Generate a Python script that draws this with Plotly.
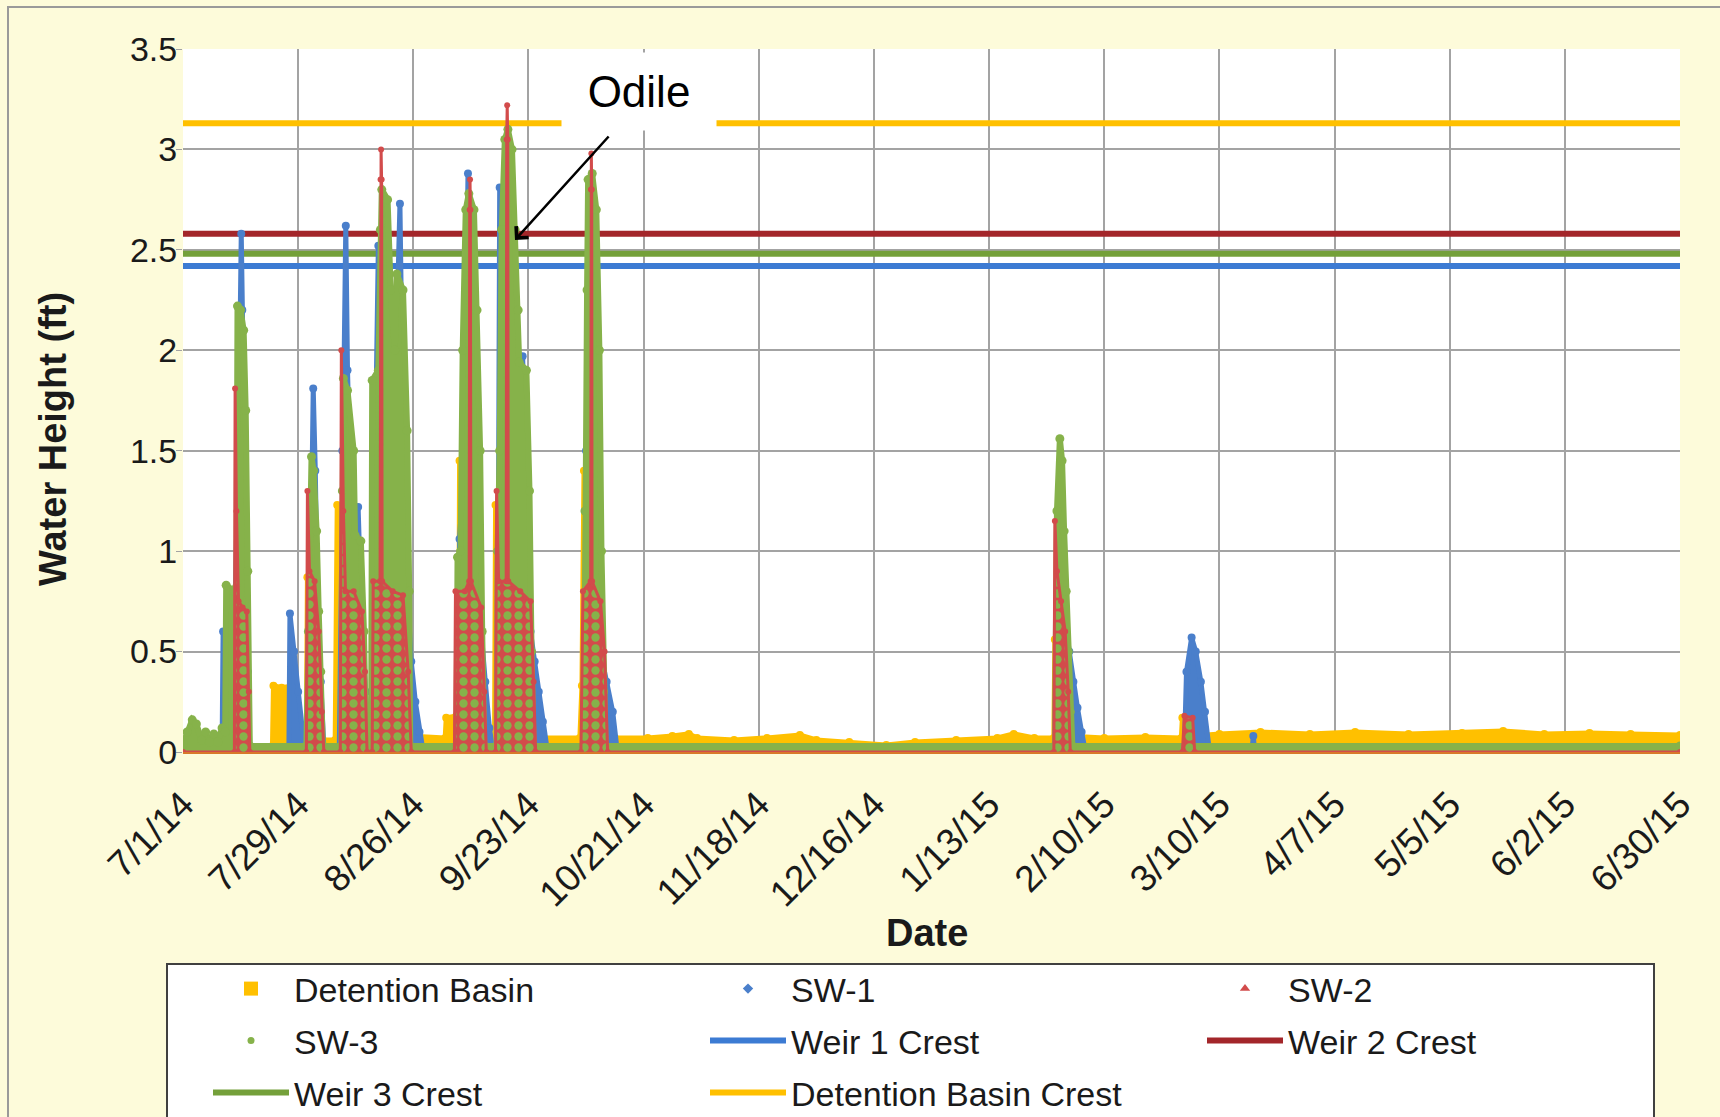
import plotly.graph_objects as go

# ---------------- data ----------------
TICK_DATES = ["2014-07-01", "2014-07-29", "2014-08-26", "2014-09-23", "2014-10-21",
              "2014-11-18", "2014-12-16", "2015-01-13", "2015-02-10", "2015-03-10",
              "2015-04-07", "2015-05-05", "2015-06-02", "2015-06-30"]
TICK_LABELS = ["7/1/14", "7/29/14", "8/26/14", "9/23/14", "10/21/14", "11/18/14",
               "12/16/14", "1/13/15", "2/10/15", "3/10/15", "4/7/15", "5/5/15",
               "6/2/15", "6/30/15"]
Y_TICKS = [0, 0.5, 1, 1.5, 2, 2.5, 3, 3.5]
Y_LABELS = ["0", "0.5", "1", "1.5", "2", "2.5", "3", "3.5"]

CREST_NAMES = ["Weir 1 Crest", "Weir 2 Crest", "Weir 3 Crest", "Detention Basin Crest"]
CREST_HEIGHTS = [2.42, 2.58, 2.48, 3.13]

DETENTION_BASIN = [
    ("2014-07-01 00:00", 0.03), ("2014-07-22 18:00", 0.03), ("2014-07-23 00:00", 0.33),
    ("2014-07-25 00:00", 0.32), ("2014-07-28 00:00", 0.33), ("2014-07-28 06:00", 0.05),
    ("2014-07-31 00:00", 0.05), ("2014-07-31 06:00", 0.87), ("2014-08-01 12:00", 0.88),
    ("2014-08-02 12:00", 0.75), ("2014-08-03 06:00", 0.35), ("2014-08-04 00:00", 0.06),
    ("2014-08-07 00:00", 0.06), ("2014-08-07 12:00", 1.23), ("2014-08-08 06:00", 1.15),
    ("2014-08-09 00:00", 0.90), ("2014-08-11 00:00", 0.55), ("2014-08-13 00:00", 0.30),
    ("2014-08-14 12:00", 0.07), ("2014-08-15 18:00", 0.07), ("2014-08-16 06:00", 1.85),
    ("2014-08-17 06:00", 1.60), ("2014-08-19 00:00", 1.00), ("2014-08-21 00:00", 0.60),
    ("2014-08-23 00:00", 0.30), ("2014-08-25 00:00", 0.08), ("2014-09-02 18:00", 0.07),
    ("2014-09-03 00:00", 0.17), ("2014-09-05 12:00", 0.18), ("2014-09-06 00:00", 0.20),
    ("2014-09-06 06:00", 1.45), ("2014-09-07 06:00", 1.25), ("2014-09-09 00:00", 0.75),
    ("2014-09-11 00:00", 0.30), ("2014-09-12 12:00", 0.07), ("2014-09-14 18:00", 0.07),
    ("2014-09-15 00:00", 1.23), ("2014-09-15 18:00", 1.00), ("2014-09-16 06:00", 0.55),
    ("2014-09-18 18:00", 0.50), ("2014-09-20 00:00", 0.30), ("2014-09-22 00:00", 0.10),
    ("2014-09-23 00:00", 0.07), ("2014-10-05 12:00", 0.07), ("2014-10-06 00:00", 0.33),
    ("2014-10-06 12:00", 1.40), ("2014-10-07 12:00", 1.20), ("2014-10-08 12:00", 0.80),
    ("2014-10-10 00:00", 0.40), ("2014-10-12 00:00", 0.10), ("2014-10-14 00:00", 0.07),
    ("2014-10-22 00:00", 0.07), ("2014-10-28 00:00", 0.08), ("2014-11-01 00:00", 0.09),
    ("2014-11-03 00:00", 0.07), ("2014-11-12 00:00", 0.06), ("2014-11-20 00:00", 0.07),
    ("2014-11-28 00:00", 0.085), ("2014-12-02 00:00", 0.06), ("2014-12-10 00:00", 0.05),
    ("2014-12-19 00:00", 0.035), ("2014-12-26 00:00", 0.05), ("2015-01-05 00:00", 0.06),
    ("2015-01-15 00:00", 0.07), ("2015-01-19 00:00", 0.09), ("2015-01-24 00:00", 0.07),
    ("2015-01-28 18:00", 0.07), ("2015-01-29 00:00", 0.56), ("2015-01-30 12:00", 0.50),
    ("2015-01-31 06:00", 0.30), ("2015-02-01 00:00", 0.08), ("2015-02-10 00:00", 0.07),
    ("2015-02-20 00:00", 0.075), ("2015-02-28 18:00", 0.07), ("2015-03-01 00:00", 0.17),
    ("2015-03-03 12:00", 0.16), ("2015-03-04 00:00", 0.08), ("2015-03-10 00:00", 0.09),
    ("2015-03-20 00:00", 0.10), ("2015-04-01 00:00", 0.09), ("2015-04-12 00:00", 0.10),
    ("2015-04-25 00:00", 0.09), ("2015-05-08 00:00", 0.095), ("2015-05-18 00:00", 0.105),
    ("2015-05-28 00:00", 0.09), ("2015-06-08 00:00", 0.095), ("2015-06-18 00:00", 0.09),
    ("2015-06-30 00:00", 0.085),
]

SW1 = [
    ("2014-07-01 00:00", 0.02), ("2014-07-10 12:00", 0.02), ("2014-07-10 18:00", 0.60),
    ("2014-07-12 00:00", 0.55), ("2014-07-13 12:00", 0.60), ("2014-07-14 12:00", 1.50),
    ("2014-07-15 04:00", 2.58), ("2014-07-15 10:00", 2.20), ("2014-07-15 18:00", 1.50),
    ("2014-07-16 06:00", 0.90), ("2014-07-16 18:00", 0.40), ("2014-07-17 06:00", 0.02),
    ("2014-07-26 18:00", 0.02), ("2014-07-27 00:00", 0.69), ("2014-07-28 00:00", 0.50),
    ("2014-07-29 00:00", 0.30), ("2014-07-30 12:00", 0.02), ("2014-07-31 12:00", 0.02),
    ("2014-08-01 00:00", 1.00), ("2014-08-01 16:00", 1.81), ("2014-08-02 04:00", 1.40),
    ("2014-08-02 18:00", 0.70), ("2014-08-03 12:00", 0.35), ("2014-08-04 06:00", 0.02),
    ("2014-08-08 00:00", 0.02), ("2014-08-08 18:00", 1.50), ("2014-08-09 14:00", 2.62),
    ("2014-08-10 00:00", 1.90), ("2014-08-10 18:00", 1.30), ("2014-08-11 18:00", 0.90),
    ("2014-08-12 14:00", 1.22), ("2014-08-13 12:00", 0.60), ("2014-08-14 12:00", 0.30),
    ("2014-08-15 06:00", 0.02), ("2014-08-16 12:00", 0.02), ("2014-08-16 18:00", 1.50),
    ("2014-08-17 12:00", 2.52), ("2014-08-18 06:00", 1.95), ("2014-08-19 12:00", 1.50),
    ("2014-08-21 00:00", 1.30), ("2014-08-22 18:00", 2.73), ("2014-08-23 12:00", 1.60),
    ("2014-08-24 12:00", 0.80), ("2014-08-25 12:00", 0.45), ("2014-08-26 12:00", 0.25),
    ("2014-08-27 12:00", 0.10), ("2014-08-28 06:00", 0.02), ("2014-09-05 18:00", 0.02),
    ("2014-09-06 06:00", 1.06), ("2014-09-07 12:00", 1.50), ("2014-09-08 07:00", 2.88),
    ("2014-09-08 18:00", 2.40), ("2014-09-09 12:00", 1.60), ("2014-09-10 12:00", 1.00),
    ("2014-09-11 12:00", 0.60), ("2014-09-12 12:00", 0.35), ("2014-09-13 12:00", 0.12),
    ("2014-09-14 06:00", 0.02), ("2014-09-15 12:00", 0.02), ("2014-09-16 00:00", 2.81),
    ("2014-09-16 18:00", 2.62), ("2014-09-18 00:00", 2.00), ("2014-09-19 12:00", 1.50),
    ("2014-09-21 14:00", 1.97), ("2014-09-22 12:00", 1.20), ("2014-09-23 12:00", 0.60),
    ("2014-09-24 12:00", 0.45), ("2014-09-25 12:00", 0.30), ("2014-09-26 12:00", 0.15),
    ("2014-09-27 12:00", 0.02), ("2014-10-06 12:00", 0.02), ("2014-10-07 00:00", 1.50),
    ("2014-10-09 00:00", 0.90), ("2014-10-10 12:00", 0.50), ("2014-10-12 00:00", 0.35),
    ("2014-10-13 12:00", 0.20), ("2014-10-14 12:00", 0.02), ("2015-01-29 12:00", 0.02),
    ("2015-01-30 00:00", 0.70), ("2015-01-31 12:00", 0.66), ("2015-02-01 12:00", 0.50),
    ("2015-02-02 12:00", 0.35), ("2015-02-03 12:00", 0.22), ("2015-02-04 12:00", 0.10),
    ("2015-02-05 06:00", 0.02), ("2015-03-01 12:00", 0.02), ("2015-03-02 00:00", 0.40),
    ("2015-03-03 06:00", 0.57), ("2015-03-04 06:00", 0.50), ("2015-03-05 12:00", 0.35),
    ("2015-03-06 12:00", 0.20), ("2015-03-07 12:00", 0.02), ("2015-03-18 00:00", 0.02),
    ("2015-03-18 06:00", 0.08), ("2015-03-18 12:00", 0.02), ("2015-06-30 00:00", 0.02),
]

SW2 = [
    ("2014-07-01 00:00", 0.0), ("2014-07-13 12:00", 0.0), ("2014-07-13 16:00", 1.81),
    ("2014-07-14 00:00", 1.20), ("2014-07-14 12:00", 0.75), ("2014-07-15 12:00", 0.72),
    ("2014-07-16 12:00", 0.70), ("2014-07-17 00:00", 0.30), ("2014-07-17 06:00", 0.0),
    ("2014-07-31 00:00", 0.0), ("2014-07-31 06:00", 1.30), ("2014-07-31 18:00", 0.90),
    ("2014-08-02 00:00", 0.85), ("2014-08-03 00:00", 0.60), ("2014-08-03 18:00", 0.20),
    ("2014-08-04 06:00", 0.0), ("2014-08-08 06:00", 0.0), ("2014-08-08 12:00", 2.00),
    ("2014-08-09 00:00", 1.20), ("2014-08-09 12:00", 0.80), ("2014-08-11 12:00", 0.80),
    ("2014-08-13 12:00", 0.70), ("2014-08-14 06:00", 0.40), ("2014-08-14 18:00", 0.0),
    ("2014-08-16 00:00", 0.0), ("2014-08-16 06:00", 0.85), ("2014-08-17 22:00", 0.85),
    ("2014-08-18 01:00", 2.85), ("2014-08-18 04:00", 3.00), ("2014-08-18 07:00", 2.85),
    ("2014-08-18 10:00", 0.85), ("2014-08-21 00:00", 0.80), ("2014-08-23 12:00", 0.78),
    ("2014-08-24 18:00", 0.40), ("2014-08-25 12:00", 0.0), ("2014-09-05 00:00", 0.0),
    ("2014-09-05 06:00", 0.80), ("2014-09-07 12:00", 0.80), ("2014-09-08 14:00", 0.85),
    ("2014-09-08 17:00", 2.70), ("2014-09-08 19:00", 2.85), ("2014-09-08 21:00", 2.70),
    ("2014-09-09 00:00", 0.85), ("2014-09-11 12:00", 0.72), ("2014-09-12 06:00", 0.30),
    ("2014-09-12 18:00", 0.0), ("2014-09-15 00:00", 0.0), ("2014-09-15 06:00", 1.30),
    ("2014-09-15 18:00", 0.85), ("2014-09-17 14:00", 0.85), ("2014-09-17 17:00", 3.05),
    ("2014-09-17 20:00", 3.22), ("2014-09-17 23:00", 3.05), ("2014-09-18 02:00", 0.85),
    ("2014-09-21 00:00", 0.80), ("2014-09-23 12:00", 0.75), ("2014-09-24 06:00", 0.35),
    ("2014-09-24 18:00", 0.0), ("2014-10-05 18:00", 0.0), ("2014-10-06 06:00", 0.80),
    ("2014-10-08 03:00", 0.85), ("2014-10-08 05:00", 2.80), ("2014-10-08 07:00", 2.98),
    ("2014-10-08 09:00", 2.80), ("2014-10-08 11:00", 0.85), ("2014-10-10 12:00", 0.75),
    ("2014-10-11 12:00", 0.50), ("2014-10-12 06:00", 0.0), ("2015-01-28 18:00", 0.0),
    ("2015-01-29 00:00", 1.15), ("2015-01-29 12:00", 0.90), ("2015-01-30 12:00", 0.75),
    ("2015-01-31 12:00", 0.60), ("2015-02-01 06:00", 0.30), ("2015-02-01 18:00", 0.0),
    ("2015-03-01 00:00", 0.0), ("2015-03-01 12:00", 0.18), ("2015-03-03 12:00", 0.17),
    ("2015-03-04 00:00", 0.0), ("2015-06-30 00:00", 0.0),
]

SW3 = [
    ("2014-07-01 00:00", 0.04), ("2014-07-02 00:00", 0.10), ("2014-07-03 06:00", 0.16),
    ("2014-07-04 06:00", 0.14), ("2014-07-05 12:00", 0.06), ("2014-07-06 12:00", 0.10),
    ("2014-07-07 12:00", 0.05), ("2014-07-08 12:00", 0.09), ("2014-07-09 12:00", 0.05),
    ("2014-07-10 12:00", 0.12), ("2014-07-11 06:00", 0.10), ("2014-07-11 12:00", 0.83),
    ("2014-07-13 12:00", 0.80), ("2014-07-14 00:00", 0.82), ("2014-07-14 06:00", 2.22),
    ("2014-07-15 00:00", 2.20), ("2014-07-15 18:00", 2.10), ("2014-07-16 06:00", 1.70),
    ("2014-07-16 18:00", 0.90), ("2014-07-17 06:00", 0.03), ("2014-07-31 00:00", 0.03),
    ("2014-07-31 12:00", 0.60), ("2014-08-01 00:00", 1.20), ("2014-08-01 06:00", 1.47),
    ("2014-08-01 18:00", 1.40), ("2014-08-02 12:00", 1.10), ("2014-08-03 00:00", 0.70),
    ("2014-08-03 12:00", 0.40), ("2014-08-04 00:00", 0.03), ("2014-08-08 12:00", 0.03),
    ("2014-08-08 18:00", 1.30), ("2014-08-09 00:00", 1.86), ("2014-08-10 00:00", 1.80),
    ("2014-08-11 12:00", 1.50), ("2014-08-11 20:00", 1.08), ("2014-08-13 06:00", 1.05),
    ("2014-08-14 00:00", 0.60), ("2014-08-14 12:00", 0.03), ("2014-08-15 18:00", 0.03),
    ("2014-08-16 00:00", 1.85), ("2014-08-17 12:00", 1.90), ("2014-08-18 00:00", 2.60),
    ("2014-08-18 08:00", 2.80), ("2014-08-19 18:00", 2.75), ("2014-08-20 12:00", 2.30),
    ("2014-08-21 12:00", 2.00), ("2014-08-22 00:00", 2.38), ("2014-08-23 12:00", 2.30),
    ("2014-08-24 12:00", 1.60), ("2014-08-25 00:00", 0.80), ("2014-08-25 06:00", 0.03),
    ("2014-09-05 12:00", 0.03), ("2014-09-05 18:00", 0.97), ("2014-09-06 12:00", 1.00),
    ("2014-09-07 00:00", 2.00), ("2014-09-07 18:00", 2.70), ("2014-09-08 12:00", 2.78),
    ("2014-09-09 18:00", 2.70), ("2014-09-10 12:00", 2.20), ("2014-09-11 06:00", 1.50),
    ("2014-09-11 18:00", 0.60), ("2014-09-12 06:00", 0.03), ("2014-09-15 06:00", 0.03),
    ("2014-09-15 12:00", 1.00), ("2014-09-16 00:00", 1.50), ("2014-09-16 12:00", 2.60),
    ("2014-09-17 06:00", 3.05), ("2014-09-18 00:00", 3.10), ("2014-09-19 00:00", 3.00),
    ("2014-09-19 18:00", 2.60), ("2014-09-20 12:00", 2.20), ("2014-09-20 18:00", 1.94),
    ("2014-09-22 12:00", 1.90), ("2014-09-23 06:00", 1.30), ("2014-09-23 18:00", 0.50),
    ("2014-09-24 06:00", 0.03), ("2014-10-06 12:00", 0.03), ("2014-10-06 18:00", 1.20),
    ("2014-10-07 06:00", 2.30), ("2014-10-07 12:00", 2.85), ("2014-10-08 12:00", 2.88),
    ("2014-10-09 12:00", 2.70), ("2014-10-10 06:00", 2.00), ("2014-10-10 18:00", 1.00),
    ("2014-10-11 06:00", 0.30), ("2014-10-11 18:00", 0.03), ("2015-01-29 00:00", 0.03),
    ("2015-01-29 12:00", 1.20), ("2015-01-30 05:00", 1.56), ("2015-01-30 18:00", 1.45),
    ("2015-01-31 06:00", 1.10), ("2015-01-31 18:00", 0.80), ("2015-02-01 06:00", 0.50),
    ("2015-02-01 18:00", 0.20), ("2015-02-02 06:00", 0.03), ("2015-06-30 00:00", 0.03),
]

# ---------------- styling ----------------
FONT = "Liberation Sans, Arial, sans-serif"
C_DB = "#FFC000"
C_SW1 = "#4A7FCB"
C_SW2 = "#D24B4B"
C_SW3 = "#86B24A"
CREST_COLORS = ["#3C7BD3", "#A3262A", "#74A03A", "#FFC000"]
CREST_LEGENDS = ["legend2", "legend2", "legend3", "legend3"]
CREST_RANKS = [2, 3, 1, 2]


def split(pairs):
    return [p[0] for p in pairs], [p[1] for p in pairs]


fig = go.Figure()

# crest lines (drawn beneath the data)
for name, h, col, lg, rk in zip(CREST_NAMES, CREST_HEIGHTS, CREST_COLORS, CREST_LEGENDS, CREST_RANKS):
    fig.add_trace(go.Scatter(
        x=[TICK_DATES[0], TICK_DATES[-1]], y=[h, h], mode="lines", name=name,
        line=dict(color=col, width=6), legend=lg, legendrank=rk, hoverinfo="skip"))

# measured series
SERIES = [
    (DETENTION_BASIN, C_DB, "Detention Basin", 5, 8, None),
    (SW1, C_SW1, "SW-1", 5, 8, None),
    (SW3, C_SW3, "SW-3", 6, 9, None),
    (SW2, C_SW2, "SW-2", 3, 6,
     dict(shape=".", fgcolor=C_SW3, bgcolor=C_SW2, size=11, solidity=0.45, fillmode="replace")),
]
for pairs, col, name, lw, ms, pattern in SERIES:
    xs, ys = split(pairs)
    kw = dict(fillpattern=pattern) if pattern else {}
    fig.add_trace(go.Scatter(
        x=xs, y=ys, mode="lines+markers", name=name, showlegend=False,
        line=dict(color=col, width=lw), marker=dict(color=col, size=ms),
        fill="tozeroy", fillcolor=col, hoverinfo="skip", cliponaxis=True, **kw))

# legend entries for measured series (markers, as in the original legend)
for name, col, sym, size, lg, rk in [("Detention Basin", C_DB, "square", 14, "legend", 1),
                                     ("SW-1", C_SW1, "diamond", 8, "legend", 2),
                                     ("SW-2", C_SW2, "triangle-up", 9, "legend", 3),
                                     ("SW-3", C_SW3, "circle", 7, "legend2", 1)]:
    fig.add_trace(go.Scatter(x=[None], y=[None], mode="markers", name=name,
                             marker=dict(color=col, symbol=sym, size=size),
                             legend=lg, legendrank=rk))

PL, PR, PT, PB = 183, 40, 49, 365
W, H = 1720, 1117
pw, ph = W - PL - PR, H - PT - PB


def px_x(x):
    return (x - PL) / pw


def px_y(y):
    return (H - PB - y) / ph


leg_common = dict(orientation="h", xanchor="left", yanchor="middle",
                  font=dict(family=FONT, size=34, color="#1a1a1a"),
                  bgcolor="rgba(0,0,0,0)", borderwidth=0, itemwidth=76,
                  entrywidth=406, entrywidthmode="pixels", traceorder="normal")

fig.update_layout(
    width=W, height=H,
    margin=dict(l=PL, r=PR, t=PT, b=PB, autoexpand=False),
    paper_bgcolor="#FDFBDA", plot_bgcolor="#FFFFFF",
    font=dict(family=FONT, color="#1a1a1a"),
    hovermode=False,
    xaxis=dict(type="date", range=[TICK_DATES[0], TICK_DATES[-1]],
               tickmode="array", tickvals=TICK_DATES, ticktext=TICK_LABELS,
               tickangle=-45, tickfont=dict(size=37, family=FONT, color="#1a1a1a"),
               showgrid=True, gridcolor="#A3A3A3", gridwidth=2,
               showline=True, linecolor="#D8782A", linewidth=2, automargin=False,
               ticks="outside", ticklen=14, tickcolor="rgba(0,0,0,0)", zeroline=False),
    yaxis=dict(range=[0, 3.5], tickmode="array", tickvals=Y_TICKS, ticktext=Y_LABELS,
               tickfont=dict(size=34, family=FONT, color="#1a1a1a"), automargin=False,
               showgrid=True, gridcolor="#A3A3A3", gridwidth=2,
               ticks="outside", ticklen=6, tickcolor="#A3A3A3", zeroline=False,
               ticklabelstandoff=-8),
    legend=dict(leg_common, x=px_x(208), y=px_y(989)),
    legend2=dict(leg_common, x=px_x(208), y=px_y(1041)),
    legend3=dict(leg_common, x=px_x(208), y=px_y(1093)),
    shapes=[
        dict(type="rect", xref="paper", yref="paper", x0=px_x(8), x1=px_x(1760),
             y0=px_y(1160), y1=px_y(7), line=dict(color="#9A9A9A", width=2),
             fillcolor="rgba(0,0,0,0)", layer="below"),
        dict(type="rect", xref="paper", yref="paper", x0=px_x(167), x1=px_x(1654),
             y0=px_y(1140), y1=px_y(964), line=dict(color="#404040", width=2),
             fillcolor="#FFFFFF", layer="above"),
    ],
    annotations=[
        dict(text="<b>Water Height (ft)</b>", xref="paper", yref="paper",
             x=px_x(53), y=px_y(439), textangle=-90, showarrow=False,
             font=dict(size=38, family=FONT, color="#1a1a1a"),
             xanchor="center", yanchor="middle"),
        dict(text="<b>Date</b>", xref="paper", yref="paper",
             x=px_x(927), y=px_y(933), showarrow=False,
             font=dict(size=38, family=FONT, color="#1a1a1a"),
             xanchor="center", yanchor="middle"),
        dict(text="", xref="paper", yref="paper", x=px_x(515), y=px_y(240),
             ax=95, ay=-105, showarrow=True, arrowhead=4, arrowsize=1.3,
             arrowwidth=2.5, arrowcolor="#000000", standoff=0),
        dict(text="Odile", xref="paper", yref="paper", x=px_x(639), y=px_y(92),
             showarrow=False, bgcolor="#FFFFFF", width=152, height=75,
             align="center", valign="middle", xanchor="center", yanchor="middle",
             font=dict(size=44, family=FONT, color="#000000")),
    ],
)

fig.write_html("out.html", config={"displayModeBar": False},
               post_script="document.body.style.margin='0';")
